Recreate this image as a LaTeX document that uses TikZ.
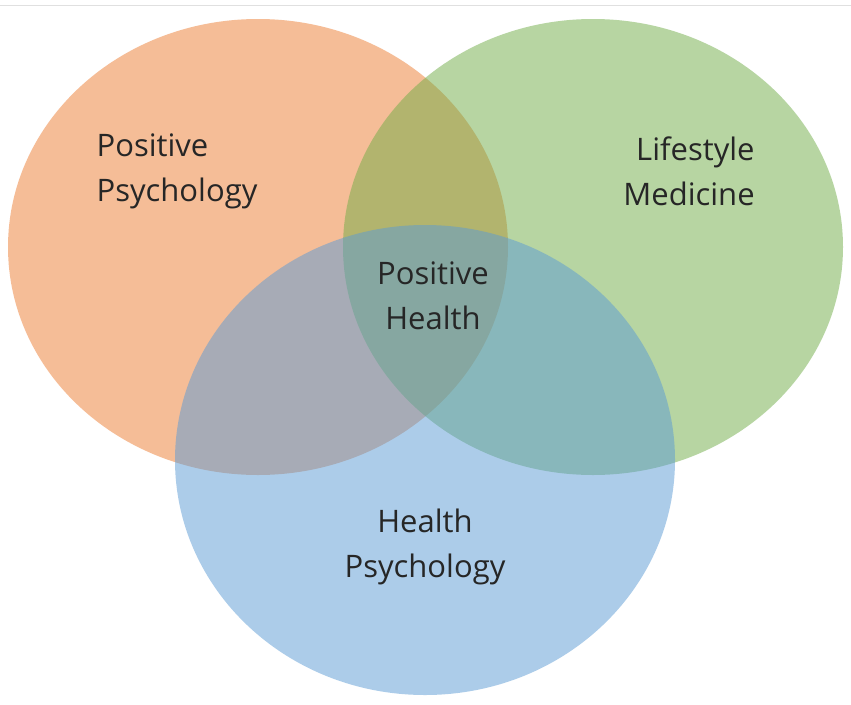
\documentclass[tikz,border=0pt]{standalone}
\usepackage{fontspec}
\setmainfont{Open Sans}
\usetikzlibrary{shapes.geometric}
\definecolor{orangeset}{HTML}{ED7D31}
\definecolor{greenset}{HTML}{70AD47}
\definecolor{blueset}{HTML}{5B9BD5}
\tikzset{
  setcircle/.style={ellipse, minimum width=500pt, fill opacity=0.5, inner sep=0pt},
  setlabel/.style={font=\fontsize{31}{45}\selectfont, text=black!85}
}
\begin{document}
\begin{tikzpicture}[x=1pt,y=-1pt]
    \useasboundingbox[fill=white] (0,0) rectangle (851,704);
    \draw[black!12] (0,5) -- (851,5);
    \node[setcircle, minimum height=456pt, fill=orangeset] (pp_set) at (258,247) {};
    \node[setcircle, minimum height=456pt, fill=greenset] (lm_set) at (593,247) {};
    \node[setcircle, minimum height=470pt, fill=blueset] (hp_set) at (425,460) {};
    \node[setlabel, align=left] (pp_lbl) at (177,171) {Positive\\Psychology};
    \node[setlabel, align=right] (lm_lbl) at (689,171) {Lifestyle\\Medicine};
    \node[setlabel, align=center] (ph_lbl) at (433,296) {Positive\\Health};
    \node[setlabel, align=center] (hp_lbl) at (425,547) {Health\\Psychology};
\end{tikzpicture}
\end{document}
